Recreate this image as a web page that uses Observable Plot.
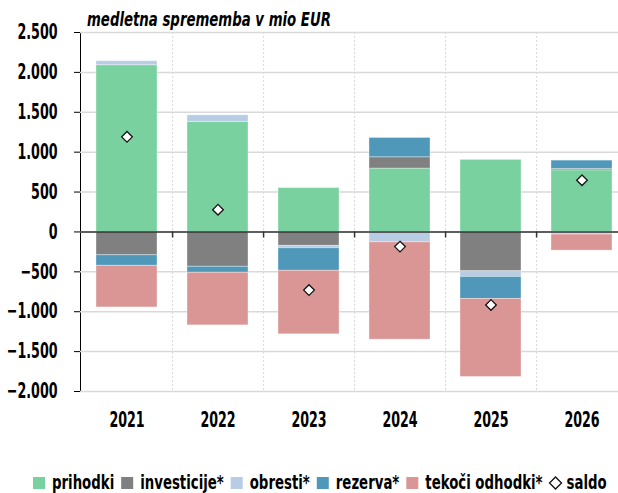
<!DOCTYPE html>
<html><head><meta charset="utf-8">
<script src="https://cdn.jsdelivr.net/npm/d3@7"></script>
<script src="https://cdn.jsdelivr.net/npm/@observablehq/plot@0.6"></script>
<style>
body{margin:0;background:#fff;}
#wrap{position:relative;width:618px;height:493px;overflow:hidden;font-family:"DejaVu Sans Condensed","DejaVu Sans",sans-serif;}
#sub{position:absolute;left:0;top:0;}
#chart{position:absolute;left:0;top:28px;}
#legend{position:absolute;left:0;top:464px;}
</style>
</head><body>
<div id="wrap">
<svg id="sub" width="618" height="30"></svg>
<div id="chart"></div>
<svg id="legend" width="618" height="29"></svg>
</div>
<script>
const years = ["2021","2022","2023","2024","2025","2026"];
const names = ["prihodki","investicije*","obresti*","rezerva*","tekoči odhodki*"];
const colors = ["#79d19f","#808080","#b8cce4","#4f98b9","#da9595"];
const prihodki    = [2090, 1379,  550,   794,  903,  773];
const investicije = [-292, -437, -175,   142, -493,   17];
const obresti     = [  50,   83,  -29,  -130,  -71,  -33];
const rezerva     = [-133,  -75, -283,   242, -276,  104];
const tekoci      = [-521, -659, -796, -1220, -978, -201];
const saldo       = [1192,  279, -729,  -184, -915,  648];
const yTicks = [-2000,-1500,-1000,-500,0,500,1000,1500,2000,2500];
const subtitle = "medletna sprememba v mio EUR";

const seriesVals = [prihodki, investicije, obresti, rezerva, tekoci];
const rows = names.flatMap((n, k) => years.map((y, i) => ({year: y, key: n, value: seriesVals[k][i]})));
const saldoRows = years.map((y, i) => ({year: y, value: saldo[i]}));

const W = 618, H = 410, mL = 80, mR = -9;
const step = (W - mR - mL) / years.length;
const fmt = d => d3.format(",")(d).replace(/,/g, ".");
const font = '"DejaVu Sans Condensed","DejaVu Sans",sans-serif';

function squeeze(el, f) {
  const L = el.getComputedTextLength();
  if (L > 0) {
    el.setAttribute("textLength", (L * f).toFixed(2));
    el.setAttribute("lengthAdjust", "spacingAndGlyphs");
  }
}

const chart = Plot.plot({
  width: W, height: H, marginLeft: mL, marginRight: mR, marginTop: 4, marginBottom: 47,
  style: {fontFamily: font, fontSize: "21px", fontWeight: "bold", color: "#000", background: "transparent", overflow: "visible"},
  x: {domain: years, paddingInner: 0.33, paddingOuter: 0.165, label: null, tickSize: 0, tickPadding: 21},
  y: {domain: [-2000, 2500], ticks: yTicks, tickFormat: fmt, label: null, tickSize: 6, tickPadding: 17, line: true},
  color: {domain: names, range: colors},
  marks: [
    Plot.gridY(yTicks, {stroke: "#d9d9d9", strokeOpacity: 1, strokeWidth: 1.5}),
    Plot.ruleX(years.slice(0, -1), {x: d => d, dx: step / 2, stroke: "#d9d9d9", strokeOpacity: 1, strokeDasharray: "2,2"}),
    Plot.barY(rows, Plot.stackY({x: "year", y: "value", fill: "key", order: names, stroke: "#fff", strokeOpacity: 0.35, strokeWidth: 1})),
    Plot.ruleY([0], {stroke: "#333", strokeWidth: 1.5}),
    Plot.ruleX(years.slice(0, -1), {x: d => d, dx: step / 2, y1: 0, y2: 0, insetBottom: -6, stroke: "#333", strokeWidth: 1.5}),
    Plot.dot(saldoRows, {x: "year", y: "value", symbol: "diamond2", r: 4.8, fill: "white", stroke: "#111", strokeWidth: 1.3})
  ]
});
document.getElementById("chart").appendChild(chart);
chart.querySelectorAll("text").forEach(t => squeeze(t, 0.67));

// horizontally compressed text placed with a transform
function ctext(sel, x, y, str, f, opts = {}) {
  const g = sel.append("g").attr("transform", `translate(${x},${y}) scale(${f},1)`);
  const t = g.append("text").attr("x", 0).attr("y", 0)
    .attr("font-family", font).attr("font-size", opts.size || 20).attr("font-weight", "bold")
    .attr("font-style", opts.italic ? "italic" : "normal").attr("fill", "#000").text(str);
  return t.node().getComputedTextLength() * f;
}

// subtitle
ctext(d3.select("#sub"), 87, 26, subtitle, 0.74, {italic: true, size: 20});

// legend
const lg = d3.select("#legend");
const fL = 0.74;
let cx = 33;
names.forEach((n, k) => {
  lg.append("rect").attr("x", cx).attr("y", 13).attr("width", 12).attr("height", 12).attr("fill", colors[k]);
  const w = ctext(lg, cx + 19, 25, n, fL);
  cx += 19 + w + 7;
});
lg.append("path").attr("d", `M${cx + 6} 13L${cx + 12} 19L${cx + 6} 25L${cx} 19Z`)
  .attr("fill", "white").attr("stroke", "#111").attr("stroke-width", 1.3);
ctext(lg, cx + 17, 25, "saldo", fL);
</script>
</body></html>
